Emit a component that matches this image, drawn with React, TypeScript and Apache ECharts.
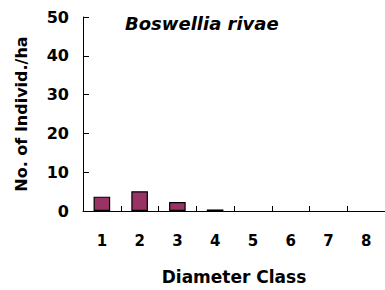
import React, { useEffect, useRef } from "react";
import * as echarts from "echarts";

const categories = ["1", "2", "3", "4", "5", "6", "7", "8"];
const values = [3.7, 5.1, 2.3, 0.4, 0, 0, 0, 0];
const yTicks = [0, 10, 20, 30, 40, 50];

export default function App() {
  const ref = useRef<HTMLDivElement>(null);
  useEffect(() => {
    const chart = echarts.init(ref.current!, null, { renderer: "svg" });
    const font = "'DejaVu Sans', Verdana, sans-serif";
    chart.setOption({
      animation: false,
      backgroundColor: "#fff",
      title: {
        text: "Boswellia rivae",
        left: 120,
        top: 9,
        textStyle: { fontFamily: font, fontSize: 18, fontWeight: "bold", fontStyle: "italic", color: "#000" },
      },
      grid: { left: 83, top: 17, width: 310, height: 195 },
      xAxis: {
        type: "category",
        data: categories,
        name: "Diameter Class",
        nameLocation: "middle",
        nameGap: 57,
        nameTextStyle: { fontFamily: font, fontSize: 17, fontWeight: "bold", color: "#000" },
        axisLine: { lineStyle: { color: "#000", width: 1 } },
        axisTick: { show: true, interval: 0, inside: true, length: 5, lineStyle: { color: "#000", width: 1 } },
        axisLabel: { fontFamily: font, fontSize: 15, fontWeight: "bold", color: "#000", margin: 22 },
      },
      yAxis: {
        type: "value",
        min: yTicks[0],
        max: yTicks[yTicks.length - 1],
        interval: 10,
        name: "No. of Individ./ha",
        nameLocation: "middle",
        nameGap: 54,
        nameTextStyle: { fontFamily: font, fontSize: 16, fontWeight: "bold", color: "#000" },
        axisLine: { show: true, lineStyle: { color: "#000", width: 1 } },
        axisTick: { show: true, inside: true, length: 6, lineStyle: { color: "#000" } },
        axisLabel: { fontFamily: font, fontSize: 16, fontWeight: "bold", color: "#000", margin: 14 },
        splitLine: { show: false },
      },
      series: [
        {
          type: "bar",
          data: values.map((v) => (v === 0 ? { value: v, itemStyle: { borderWidth: 0 } } : v)),
          barWidth: "44%",
          itemStyle: { color: "#993366", borderColor: "#000", borderWidth: 1.2 },
        },
      ],
    });
    return () => chart.dispose();
  }, []);
  return <div ref={ref} style={{ width: 385, height: 290, position: "absolute", left: 0, top: 0 }} />;
}
